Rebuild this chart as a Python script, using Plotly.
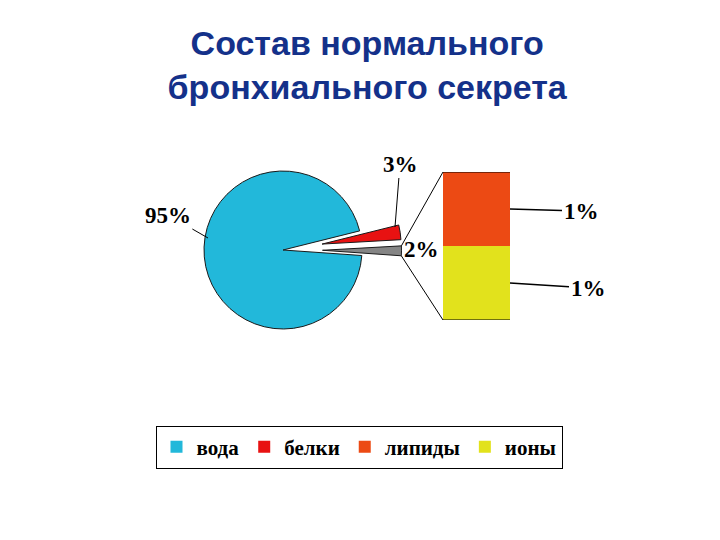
import math
import plotly.graph_objects as go

# ---------------- data ----------------
title_text = "Состав нормального<br>бронхиального секрета"
pie_labels = ["вода", "белки", "прочие"]
pie_values = [95, 3, 2]
bar_labels = ["ионы", "липиды"]          # bottom -> top
bar_values = [1, 1]
legend_order = ["вода", "белки", "липиды", "ионы"]

colors = {
    "вода": "#22B8DA",
    "белки": "#E81212",
    "прочие": "#858585",
    "липиды": "#EC4A14",
    "ионы": "#E2E21C",
}

# ---------------- layout geometry ----------------
W, H = 720, 540
cx, cy, r = 283, 250, 79            # pie centre / radius (px)
pull = 0.5
rotation = 94
half = r * (1 + pull)
pie_dom_x = [(cx - half) / W, (cx + half) / W]
pie_dom_y = [1 - (cy + half) / H, 1 - (cy - half) / H]

bx0, bx1 = 443, 510                 # bar column (px)
by_top, by_bot = 172, 320
bar_dom_x = [bx0 / W, bx1 / W]
bar_dom_y = [1 - by_bot / H, 1 - by_top / H]
bar_total = sum(bar_values)

label_font = dict(family="Liberation Serif, Times New Roman, serif", size=23,
                  color="#000000", weight="bold")

fig = go.Figure()

fig.add_trace(go.Pie(
    labels=pie_labels, values=pie_values, sort=False,
    direction="clockwise", rotation=rotation,
    pull=[0, pull, pull],
    marker=dict(colors=[colors[l] for l in pie_labels],
                line=dict(color="#1a1a1a", width=1)),
    textinfo="none", showlegend=False, hoverinfo="label+percent",
    domain=dict(x=pie_dom_x, y=pie_dom_y),
))

# legend-only entries for the pie categories
for lab in ["вода", "белки"]:
    fig.add_trace(go.Bar(x=[None], y=[None], name=lab,
                         marker=dict(color=colors[lab], line=dict(width=0)),
                         legendrank=legend_order.index(lab) + 1))

for lab, val in zip(bar_labels, bar_values):
    fig.add_trace(go.Bar(x=[0], y=[val], name=lab, width=1,
                         marker=dict(color=colors[lab], line=dict(width=0)),
                         legendrank=legend_order.index(lab) + 1,
                         hoverinfo="name+y"))

# ---------------- connectors from the grey slice to the bar ----------------
tot = sum(pie_values)
a0 = rotation + 360 * sum(pie_values[:2]) / tot
a1 = a0 + 360 * pie_values[2] / tot
mid = (a0 + a1) / 2


def pt(angle_deg, rad, base):
    t = math.radians(angle_deg)
    return base[0] + rad * math.sin(t), base[1] - rad * math.cos(t)


gc = pt(mid, pull * r, (cx, cy))
p_top = pt(a0, r, gc)
p_bot = pt(a1, r, gc)

shapes = [
    dict(type="line", xref="paper", yref="paper",
         x0=p_top[0] / W, y0=1 - p_top[1] / H, x1=bar_dom_x[0], y1=bar_dom_y[1],
         line=dict(color="#000000", width=1)),
    dict(type="line", xref="paper", yref="paper",
         x0=p_bot[0] / W, y0=1 - p_bot[1] / H, x1=bar_dom_x[0], y1=bar_dom_y[0],
         line=dict(color="#000000", width=1)),
    dict(type="line", xref="x", yref="y", x0=-0.5, x1=0.5, y0=bar_total, y1=bar_total,
         line=dict(color="#000000", width=1)),
    dict(type="line", xref="x", yref="y", x0=-0.5, x1=0.5, y0=0, y1=0,
         line=dict(color="#000000", width=1)),
]

# ---------------- labels ----------------
ann = []
# 95 %
ann.append(dict(xref="paper", yref="paper", x=208 / W, y=1 - 238 / H,
                text=f"{pie_values[0]}%", showarrow=True, arrowhead=0, arrowwidth=1,
                arrowcolor="#000", ax=-40, ay=-23, font=label_font))
# 3 %
ann.append(dict(xref="paper", yref="paper", x=395 / W, y=1 - 227 / H,
                text=f"{pie_values[1]}%", showarrow=True, arrowhead=0, arrowwidth=1,
                arrowcolor="#000", ax=5, ay=-63, font=label_font))
# 2 %
ann.append(dict(xref="paper", yref="paper", x=421 / W, y=1 - 249 / H,
                text=f"{pie_values[2]}%", showarrow=False, font=label_font))
# bar labels
cum = 0
offsets = {"ионы": (78, 5), "липиды": (71, 2)}
for lab, val in zip(bar_labels, bar_values):
    ymid = cum + val / 2
    cum += val
    ax, ay = offsets[lab]
    ann.append(dict(xref="x", yref="y", x=0.5, y=ymid,
                    text=f"{val}%", showarrow=True, arrowhead=0, arrowwidth=1.6,
                    arrowcolor="#000", ax=ax, ay=ay, font=label_font))

fig.update_layout(
    width=W, height=H,
    margin=dict(l=0, r=0, t=0, b=0),
    paper_bgcolor="#FFFFFF", plot_bgcolor="rgba(0,0,0,0)",
    barmode="stack",
    title=dict(text=title_text, x=0.51, xanchor="center",
               y=1 - 55 / H, yanchor="top", yref="container",
               font=dict(family="Liberation Sans, Arial, sans-serif", size=34,
                         color="#14318A", weight="bold")),
    xaxis=dict(domain=bar_dom_x, range=[-0.5, 0.5], visible=False, fixedrange=True),
    yaxis=dict(domain=bar_dom_y, range=[0, bar_total], visible=False, fixedrange=True),
    showlegend=True,
    legend=dict(orientation="h", x=359 / W, xanchor="center",
                y=1 - 447 / H, yanchor="middle",
                bordercolor="#000000", borderwidth=1, bgcolor="#FFFFFF",
                font=dict(family="Liberation Serif, Times New Roman, serif", size=21,
                          color="#000000", weight="bold"),
                traceorder="normal"),
    shapes=shapes, annotations=ann,
)

fig.write_html("out.html", config={"displayModeBar": False},
               post_script="document.body.style.margin='0px';")
